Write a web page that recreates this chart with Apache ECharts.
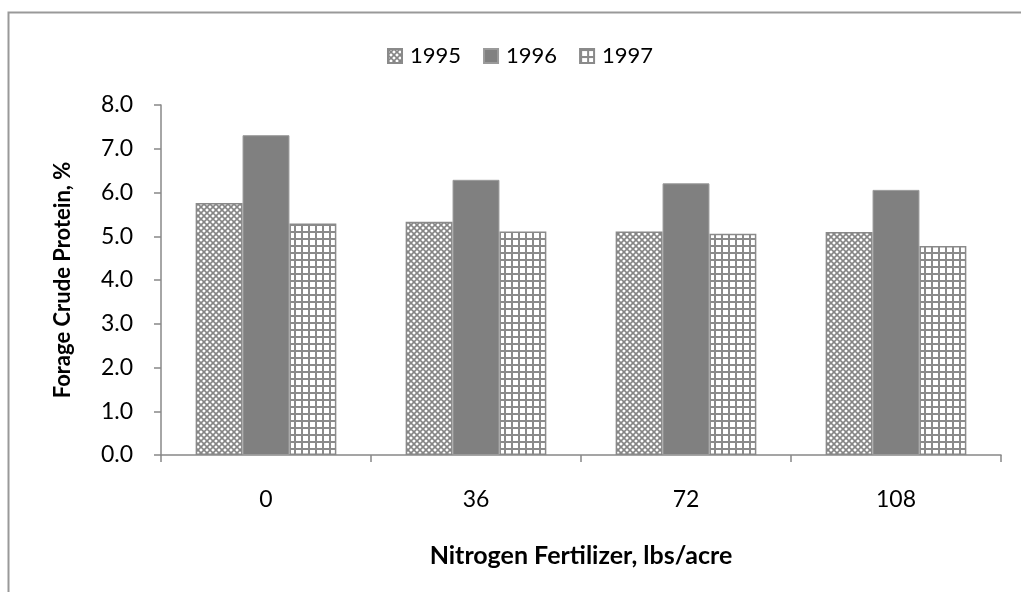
<!DOCTYPE html>
<html>
<head>
<meta charset="utf-8">
<script src="https://cdn.jsdelivr.net/npm/echarts@6/dist/echarts.min.js"></script>
<style>html,body{margin:0;padding:0;background:#fff;}#c{width:1021px;height:592px;}</style>
</head>
<body>
<div id="c"></div>
<script>
const categories = ['0', '36', '72', '108'];
const years = ['1995', '1996', '1997'];
const values1995 = [5.76, 5.33, 5.11, 5.10];
const values1996 = [7.31, 6.29, 6.21, 6.06];
const values1997 = [5.29, 5.11, 5.06, 4.78];
const yTicks = [0, 1, 2, 3, 4, 5, 6, 7, 8];

function crossPattern() {
  const c = document.createElement('canvas');
  c.width = 6; c.height = 6;
  const g = c.getContext('2d');
  g.fillStyle = '#ffffff'; g.fillRect(0, 0, 6, 6);
  g.strokeStyle = '#858585'; g.lineWidth = 1.6;
  g.beginPath();
  g.moveTo(-1, -1); g.lineTo(7, 7);
  g.moveTo(-1, 7); g.lineTo(7, -1);
  g.stroke();
  return c;
}
function gridPattern() {
  const c = document.createElement('canvas');
  c.width = 7; c.height = 7;
  const g = c.getContext('2d');
  g.fillStyle = '#ffffff'; g.fillRect(0, 0, 7, 7);
  g.fillStyle = '#8a8a8a';
  g.fillRect(0, 0, 7, 2);
  g.fillRect(0, 0, 2, 7);
  return c;
}

const chart = echarts.init(document.getElementById('c'));
const font = 'Lato, "Open Sans", sans-serif';
const option = {
  animation: false,
  backgroundColor: '#ffffff',
  graphic: [{
    type: 'rect',
    shape: { x: 8.5, y: 12.5, width: 1100, height: 700 },
    style: { fill: 'none', stroke: '#999999', lineWidth: 2 },
    silent: true
  }],
  legend: {
    data: years,
    top: 40,
    left: 382,
    icon: 'rect',
    itemWidth: 14,
    itemHeight: 14,
    itemGap: 22,
    textStyle: { fontSize: 22, color: '#000', fontFamily: font, padding: [0, 0, 0, 3] }
  },
  grid: { left: 161, right: 20, top: 105, bottom: 137, containLabel: false },
  xAxis: {
    type: 'category',
    data: categories,
    axisLine: { lineStyle: { color: '#888888', width: 1.5 } },
    axisTick: { show: true, length: 7, lineStyle: { color: '#888888', width: 1.5 } },
    axisLabel: { fontSize: 23, color: '#000', margin: 33, fontFamily: font },
    name: 'Nitrogen Fertilizer, lbs/acre',
    nameLocation: 'middle',
    nameGap: 88,
    nameTextStyle: { fontSize: 25, fontWeight: 'bold', color: '#000', fontFamily: font }
  },
  yAxis: {
    type: 'value',
    min: 0,
    max: 8,
    interval: 1,
    splitLine: { show: false },
    axisLine: { show: true, lineStyle: { color: '#888888', width: 1.5 } },
    axisTick: { show: true, length: 7, lineStyle: { color: '#888888', width: 1.5 } },
    axisLabel: {
      fontSize: 23, color: '#000', margin: 28, fontFamily: font,
      formatter: v => yTicks.indexOf(v) >= 0 ? v.toFixed(1) : ''
    },
    name: 'Forage Crude Protein, %',
    nameLocation: 'middle',
    nameGap: 87,
    nameTextStyle: { fontSize: 22, fontWeight: 'bold', color: '#000', fontFamily: font }
  },
  series: [
    {
      name: years[0], type: 'bar', data: values1995,
      barGap: '0%', barCategoryGap: '33%',
      itemStyle: { color: { image: crossPattern(), repeat: 'repeat' }, borderColor: '#8a8a8a', borderWidth: 1.5 }
    },
    {
      name: years[1], type: 'bar', data: values1996,
      itemStyle: { color: '#808080', borderColor: '#9a9a9a', borderWidth: 1 }
    },
    {
      name: years[2], type: 'bar', data: values1997,
      itemStyle: { color: { image: gridPattern(), repeat: 'repeat' }, borderColor: '#8a8a8a', borderWidth: 1.5 }
    }
  ]
};
chart.setOption(option);
</script>
</body>
</html>
